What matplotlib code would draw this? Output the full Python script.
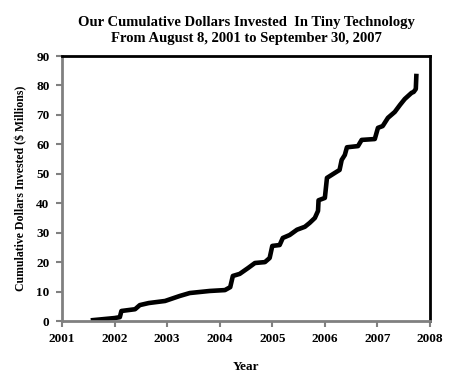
import matplotlib
matplotlib.use('Agg')
import matplotlib.pyplot as plt

# Cumulative investment (decimal year, $ millions)
year = [2001.59, 2002.00, 2002.10, 2002.13, 2002.39, 2002.48, 2002.65, 2002.96,
        2003.24, 2003.43, 2003.81, 2004.10, 2004.20, 2004.25, 2004.38, 2004.54,
        2004.67, 2004.86, 2004.95, 2005.00, 2005.14, 2005.20, 2005.33, 2005.47,
        2005.62, 2005.71, 2005.81, 2005.87, 2005.88, 2006.00, 2006.04, 2006.19,
        2006.28, 2006.32, 2006.38, 2006.42, 2006.63, 2006.70, 2006.95, 2007.01,
        2007.10, 2007.20, 2007.33, 2007.43, 2007.52, 2007.65, 2007.69, 2007.73,
        2007.74]
invested = [0.3, 1.0, 1.3, 3.4, 4.0, 5.4, 6.1, 6.8,
            8.5, 9.5, 10.2, 10.5, 11.5, 15.3, 16.0, 18.0,
            19.7, 20.0, 21.4, 25.5, 25.8, 28.2, 29.2, 31.0,
            32.0, 33.3, 35.0, 37.4, 41.0, 41.8, 48.6, 50.3,
            51.3, 54.7, 56.4, 59.0, 59.4, 61.5, 61.8, 65.6,
            66.2, 69.0, 71.0, 73.4, 75.4, 77.5, 77.8, 78.8,
            83.2]

x_ticks = [2001, 2002, 2003, 2004, 2005, 2006, 2007, 2008]
y_ticks = [0, 10, 20, 30, 40, 50, 60, 70, 80, 90]

plt.rcParams['font.family'] = ['Liberation Serif', 'DejaVu Serif']
plt.rcParams['font.weight'] = 'bold'

fig = plt.figure(figsize=(4.68, 3.79), dpi=100)
ax = fig.add_axes([62/468, 58/379, 368/468, 265/379])

ax.plot(year, invested, color='black', linewidth=3.3, solid_joinstyle='round')

ax.set_xlim(2001, 2008)
ax.set_ylim(0, 90)
ax.set_xticks(x_ticks)
ax.set_yticks(y_ticks)
ax.set_xticklabels([str(t) for t in x_ticks], fontsize=9.5, fontweight='bold')
ax.set_yticklabels([str(t) for t in y_ticks], fontsize=9.5, fontweight='bold')

gray = '#808080'
ax.spines['left'].set_color(gray)
ax.spines['bottom'].set_color(gray)
ax.spines['left'].set_linewidth(2)
ax.spines['bottom'].set_linewidth(2)
ax.spines['top'].set_linewidth(2)
ax.spines['right'].set_linewidth(2)
ax.tick_params(axis='both', color=gray, width=1.5, length=4, direction='out', pad=5)

ax.set_xlabel('Year', fontsize=9.5, fontweight='bold', labelpad=11)
ax.set_ylabel('Cumulative Dollars Invested ($ Millions)', fontsize=8.5, fontweight='bold', labelpad=6)
ax.set_title('Our Cumulative Dollars Invested  In Tiny Technology\nFrom August 8, 2001 to September 30, 2007',
             fontsize=10.5, fontweight='bold', pad=10, linespacing=1.35)

fig.savefig('out.png', dpi=100)
